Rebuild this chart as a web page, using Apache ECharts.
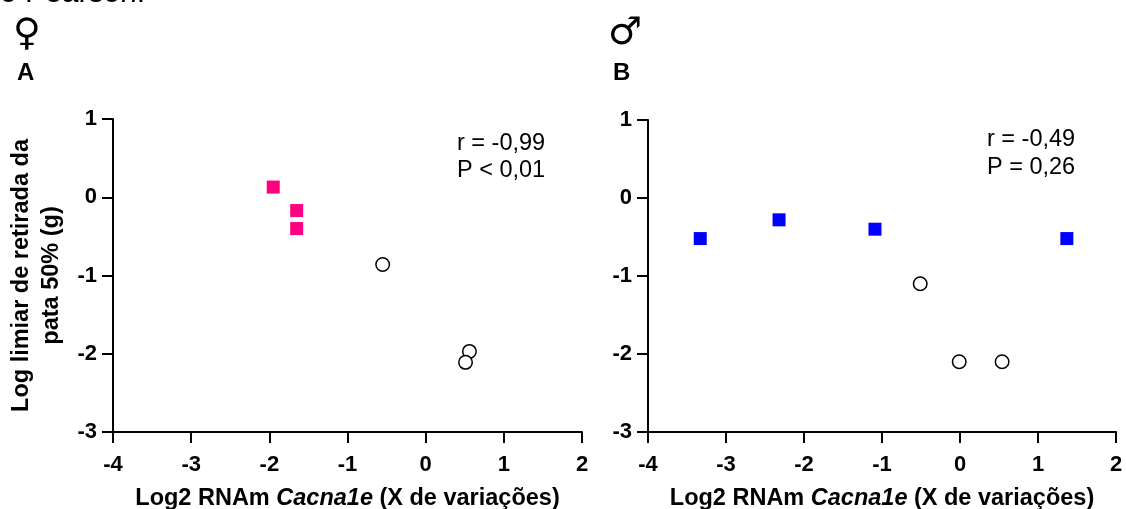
<!DOCTYPE html>
<html><head><meta charset="utf-8">
<style>html,body{margin:0;padding:0;background:#fff}#c{width:1126px;height:509px}</style>
<script src="https://cdn.jsdelivr.net/npm/echarts@6/dist/echarts.min.js"></script>
</head><body><div id="c"></div>
<script>
const femaleSham = [[-1.95,0.13],[-1.65,-0.17],[-1.65,-0.40]];
const femaleCircle = [[-0.55,-0.86],[0.56,-1.97],[0.51,-2.11]];
const maleSham = [[-3.33,-0.52],[-2.32,-0.28],[-1.09,-0.40],[1.37,-0.52]];
const maleCircle = [[-0.51,-1.10],[-0.01,-2.10],[0.54,-2.10]];
const xLabel = ['Log2 RNAm ','Cacna1e',' (X de variações)'];
const yLabel = 'Log limiar de retirada da\npata 50% (g)';
const FONT = '"Liberation Sans", Arial, sans-serif';
const axisBase = {
  axisLine:{onZero:false,lineStyle:{color:'#000',width:2}},
  axisTick:{show:true,length:11,lineStyle:{color:'#000',width:2}},
  splitLine:{show:false},
  axisLabel:{color:'#000',fontFamily:FONT,fontWeight:'bold',fontSize:22,showMinLabel:true,showMaxLabel:true}
};
function xAxis(i){return Object.assign({},axisBase,{type:'value',gridIndex:i,min:-4,max:2,interval:1,
  axisLabel:Object.assign({},axisBase.axisLabel,{margin:22}),
  name:'{b|'+xLabel[0]+'}{i|'+xLabel[1]+'}{b|'+xLabel[2]+'}',nameLocation:'middle',nameGap:55,
  nameTextStyle:{rich:{b:{fontFamily:FONT,fontWeight:'bold',fontSize:23.5,color:'#000'},i:{fontFamily:FONT,fontWeight:'bold',fontStyle:'italic',fontSize:23.5,color:'#000'}}}});}
function yAxis(i,name){return Object.assign({},axisBase,{type:'value',gridIndex:i,min:-3,max:1,interval:1,
  axisLabel:Object.assign({},axisBase.axisLabel,{margin:16,padding:[4,0,0,0]}),
  name:name,nameLocation:'middle',nameGap:46,nameRotate:90,
  nameTextStyle:{fontFamily:FONT,fontWeight:'bold',fontSize:23.5,color:'#000',lineHeight:30}});}
function scatter(i,data,sym,size,color,border,bw){return {type:'scatter',xAxisIndex:i,yAxisIndex:i,data,symbol:sym,symbolSize:size,
  itemStyle:{color,borderColor:border,borderWidth:bw,opacity:1},z:3};}
function txt(left,top,text,font,extra){return {type:'text',left,top,style:Object.assign({text,font,fill:'#000'},extra||{})};}
const chart = echarts.init(document.getElementById('c'),null,{renderer:'canvas'});
chart.setOption({
  backgroundColor:'#fff',animation:false,
  grid:[{left:113,top:119,width:469,height:313,outerBoundsMode:'none'},{left:648,top:120,width:468,height:312,outerBoundsMode:'none'}],
  xAxis:[xAxis(0),xAxis(1)],
  yAxis:[yAxis(0,yLabel),yAxis(1,'')],
  series:[
    scatter(0,femaleCircle,'circle',13.5,'#fff','#000',1.5),
    scatter(0,femaleSham,'rect',13,'#ff0080','#ff0080',0),
    scatter(1,maleCircle,'circle',13.5,'#fff','#000',1.5),
    scatter(1,maleSham,'rect',13,'#0000ff','#0000ff',0)
  ],
  graphic:[
    txt(0,-21,'o Pearson.','30px '+FONT),
    txt(13,16,'♀','38px "DejaVu Sans"'),
    txt(608,15,'♂','38px "DejaVu Sans"'),
    txt(17,61,'A','bold 24px '+FONT),
    txt(613,61,'B','bold 24px '+FONT),
    txt(457,132,'r = -0,99','23.5px '+FONT),
    txt(457,159,'P < 0,01','23.5px '+FONT),
    txt(987,128,'r = -0,49','23.5px '+FONT),
    txt(987,156,'P = 0,26','23.5px '+FONT)
  ]
});
</script></body></html>
